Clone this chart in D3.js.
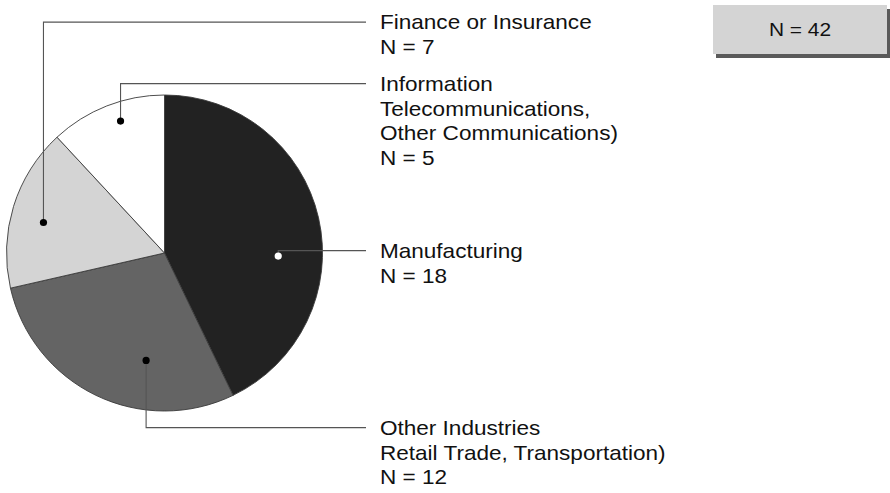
<!DOCTYPE html>
<html><head><meta charset="utf-8">
<script src="https://cdn.jsdelivr.net/npm/d3@7"></script>
<style>
html,body{margin:0;padding:0;background:#fff;}
svg{display:block;font-family:"Liberation Sans",Arial,Helvetica,sans-serif;}
</style></head>
<body>
<svg id="chart" width="890" height="493"></svg>
<script>
// ---- data ----
const categories = ["Manufacturing", "Other Industries", "Finance or Insurance", "Information"];
const values = [18, 12, 7, 5];
const labelLines = [
  ["Manufacturing", "N = 18"],
  ["Other Industries", "Retail Trade, Transportation)", "N = 12"],
  ["Finance or Insurance", "N = 7"],
  ["Information", "Telecommunications,", "Other Communications)", "N = 5"]
];
const totalLabel = "N = 42";

// ---- styles / layout ----
const fills = ["#222222", "#646464", "#d4d4d4", "#ffffff"];
const dotFills = ["#ffffff", "#000000", "#000000", "#000000"];
// callout anchor: angle offset from slice middle (deg), radius fraction
const anchorOffsetDeg = [14.4, -16, -3, 3];
const anchorRadiusFrac = [0.72, 0.69, 0.79, 0.88];
// baseline of first label line
const labelBaseline = [258, 435, 29.5, 91];
const lineHeight = 24.6;
const fontSize = 20.5;
const stretchX = 1.1;
const cx = 164.5, cy = 253, R = 158;
const labelX = 380, leaderEndX = 366;

const svg = d3.select("#chart");
const g = svg.append("g").attr("transform", `translate(${cx},${cy})`);

const pie = d3.pie().sort(null).value(d => d.value);
const data = categories.map((c, i) => ({name: c, value: values[i], i}));
const arcs = pie(data);
const arc = d3.arc().innerRadius(0).outerRadius(R);

g.selectAll("path.slice").data(arcs).join("path")
  .attr("class", "slice")
  .attr("d", arc)
  .attr("fill", d => fills[d.data.i])
  .attr("stroke", "#3a3a3a")
  .attr("stroke-width", 0.9)
  .attr("stroke-linejoin", "round");

// callouts
arcs.forEach(d => {
  const i = d.data.i;
  const mid = (d.startAngle + d.endAngle) / 2 + anchorOffsetDeg[i] * Math.PI / 180;
  const rr = anchorRadiusFrac[i] * R;
  const ax = cx + Math.sin(mid) * rr;
  const ay = cy - Math.cos(mid) * rr;
  const capMid = labelBaseline[i] - fontSize * 0.716 / 2;
  const ly = Math.abs(ay - capMid) < 4 ? ay : capMid;
  const path = d3.path();
  path.moveTo(ax, ay);
  path.lineTo(ax, ly);
  path.lineTo(leaderEndX, ly);
  svg.append("path").attr("d", path.toString())
    .attr("fill", "none").attr("stroke", "#555").attr("stroke-width", 1.1);
  svg.append("circle").attr("cx", ax).attr("cy", ay).attr("r", 3.6)
    .attr("fill", dotFills[i]);
  const t = svg.append("text")
    .attr("transform", `translate(${labelX},0) scale(${stretchX},1)`)
    .attr("x", 0).attr("y", labelBaseline[i])
    .attr("font-size", fontSize).attr("fill", "#111");
  labelLines[i].forEach((line, k) => {
    t.append("tspan").attr("x", 0).attr("y", labelBaseline[i] + k * lineHeight).text(line);
  });
});

// total box
const bx = 713, by = 5, bw = 174, bh = 49;
svg.append("rect").attr("x", bx + 3).attr("y", by + 4).attr("width", bw).attr("height", bh)
  .attr("fill", "#5a5a5a");
svg.append("rect").attr("x", bx).attr("y", by).attr("width", bw).attr("height", bh)
  .attr("fill", "#d4d4d4");
svg.append("text")
  .attr("transform", `translate(${bx + bw / 2},0) scale(${stretchX},1)`)
  .attr("x", 0).attr("y", by + bh / 2 + 7)
  .attr("text-anchor", "middle").attr("font-size", 19).attr("fill", "#111").text(totalLabel);
</script>
</body></html>
